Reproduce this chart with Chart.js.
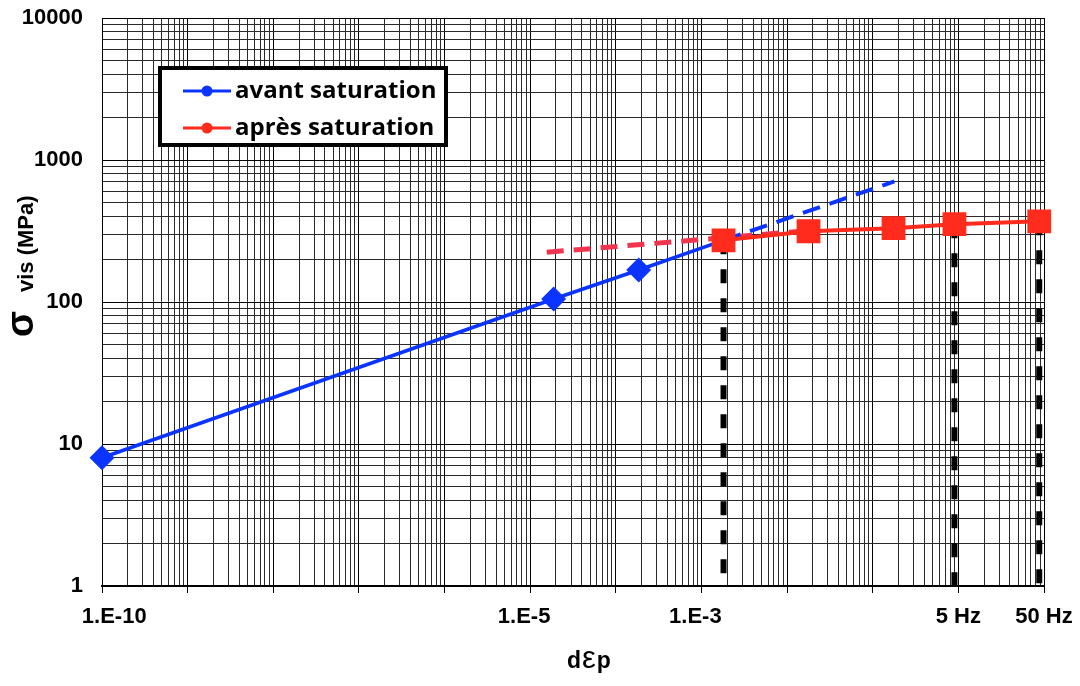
<!DOCTYPE html>
<html>
<head>
<meta charset="utf-8">
<script src="https://cdn.jsdelivr.net/npm/chart.js@4/dist/chart.umd.min.js"></script>
<style>
  html, body { margin: 0; padding: 0; background: #fff; }
  #wrap { width: 1080px; height: 686px; }
</style>
</head>
<body>
<div id="wrap"><canvas id="chart"></canvas></div>
<script>
"use strict";

// avant saturation (blue diamonds)
var avantX = [1e-10, 1.88e-5, 1.85e-4, 1.81e-3];
var avantY = [8, 105, 168, 272];
// blue dashed extension
var avantExtX = [1.81e-3, 0.179];
var avantExtY = [272, 707];

// apres saturation (red squares)
var apresX = [1.81e-3, 1.78e-2, 0.175, 0.9, 8.8];
var apresY = [272, 315, 331, 353, 370];
// red dashed extension
var apresExtX = [1.56e-5, 1.78e-2];
var apresExtY = [224, 318];

// black dashed verticals (frequencies)
var markerX = [1.81e-3, 0.9, 8.8];
var markerTop = [272, 353, 370];

// tick labels (spaces nudge them like the original)
var xLabelValues = [1e-10, 1e-5, 1e-3, 1, 10];
var xLabels = ['    1.E-10', '1.E-5  ', '1.E-3  ', '5 Hz', '50 Hz'];
var yLabelValues = [1, 10, 100, 1000, 10000];
var yLabels = ['1', '10', '100', '1000', '10000'];

var legendNames = ['avant saturation', 'après saturation'];
var BLUE = '#0b34ff';
var RED = '#ff2b1c';
var PINK = '#f2344f';

function pts(xs, ys) {
    return xs.map(function(x, i) { return { x: x, y: ys[i] }; });
}

// every 1..9 x 10^e value, for the log grid
function logGrid(minExp, maxExp) {
    var v = [];
    for (var e = minExp; e < maxExp; e++) {
        for (var m = 1; m < 10; m++) v.push(m * Math.pow(10, e));
    }
    v.push(Math.pow(10, maxExp));
    return v;
}

function isDecade(v) {
    var l = Math.log10(v);
    return Math.abs(l - Math.round(l)) < 1e-9;
}

function labelFor(values, labels, v) {
    for (var i = 0; i < values.length; i++) {
        if (Math.abs(Math.log10(values[i]) - Math.log10(v)) < 1e-9) return labels[i];
    }
    return '';
}

var tickFont = { family: '"Liberation Sans", Arial, sans-serif', weight: 'bold', size: 22 };

var datasets = [
    {
        data: pts(apresX, apresY), borderColor: RED, backgroundColor: RED,
        borderWidth: 4, pointStyle: 'rect', pointRadius: 14, order: 0
    },
    {
        data: pts(avantX, avantY), borderColor: BLUE, backgroundColor: BLUE,
        borderWidth: 3.5, pointStyle: 'rectRot', pointRadius: [10, 10, 10, 0], order: 1
    },
    {
        data: pts(avantExtX, avantExtY), borderColor: BLUE, borderWidth: 4,
        borderDash: [18, 10], pointRadius: 0, order: 2
    },
    {
        data: pts(apresExtX, apresExtY), borderColor: PINK, borderWidth: 5,
        borderDash: [17, 10], pointRadius: 0, order: 2
    }
];

markerX.forEach(function(x, i) {
    datasets.push({
        data: [{ x: x, y: markerTop[i] }, { x: x, y: 1 }],
        borderColor: '#000', borderWidth: 6, borderDash: [14, 15],
        borderCapStyle: 'butt', pointRadius: 0, order: 3
    });
});

// legend box and axis titles (with sigma / epsilon glyphs)
var decor = {
    id: 'decor',
    afterDraw: function(chart) {
        var ctx = chart.ctx;
        ctx.save();

        // legend
        ctx.fillStyle = '#fff';
        ctx.fillRect(160, 68, 286, 77);
        ctx.lineWidth = 4;
        ctx.strokeStyle = '#000';
        ctx.strokeRect(160, 68, 286, 77);
        [BLUE, RED].forEach(function(c, i) {
            var y = 91 + i * 37;
            ctx.strokeStyle = c;
            ctx.lineWidth = 3;
            ctx.beginPath();
            ctx.moveTo(183, y);
            ctx.lineTo(231, y);
            ctx.stroke();
            ctx.fillStyle = c;
            ctx.beginPath();
            ctx.arc(207, y, 5.5, 0, Math.PI * 2);
            ctx.fill();
            ctx.fillStyle = '#000';
            ctx.font = 'bold 24px "Open Sans", sans-serif';
            ctx.textAlign = 'left';
            ctx.textBaseline = 'middle';
            ctx.fillText(legendNames[i], 235, y);
        });

        // y title
        ctx.translate(33, 337);
        ctx.rotate(-Math.PI / 2);
        ctx.textBaseline = 'alphabetic';
        ctx.textAlign = 'left';
        ctx.fillStyle = '#000';
        ctx.font = 'bold 38px "Liberation Sans", sans-serif';
        ctx.fillText('σ', 0, 0);
        ctx.font = 'bold 22px "Liberation Sans", sans-serif';
        ctx.fillText('vis (MPa)', 45, 0);
        ctx.setTransform(1, 0, 0, 1, 0, 0);

        // x title
        var x = 567;
        ctx.font = 'bold 23px "Liberation Sans", sans-serif';
        ctx.fillText('d', x, 668);
        x += ctx.measureText('d').width + 1;
        ctx.font = '31px "Liberation Sans", sans-serif';
        ctx.fillText('ε', x, 668);
        x += ctx.measureText('ε').width + 1;
        ctx.font = 'bold 23px "Liberation Sans", sans-serif';
        ctx.fillText('p', x, 668);

        ctx.restore();
    }
};

new Chart(document.getElementById('chart'), {
    type: 'scatter',
    data: { datasets: datasets },
    plugins: [decor],
    options: {
        responsive: true,
        maintainAspectRatio: false,
        animation: false,
        events: [],
        showLine: true,
        clip: false,
        layout: { padding: { top: 16, right: 36, left: 0, bottom: 0 } },
        plugins: { legend: { display: false }, tooltip: { enabled: false } },
        scales: {
            x: {
                type: 'logarithmic',
                min: 1e-10,
                max: 10,
                afterBuildTicks: function(scale) {
                    scale.ticks = logGrid(-10, 1).map(function(v) { return { value: v }; });
                },
                afterFit: function(scale) {
                    scale.height = 100;
                    scale.paddingLeft = 0;
                    scale.paddingRight = 0;
                },
                border: { color: '#000', width: 2 },
                grid: {
                    color: function(c) { return isDecade(c.tick.value) ? '#000' : '#2a2a2a'; },
                    lineWidth: 1,
                    tickLength: 7,
                    tickColor: function(c) { return isDecade(c.tick.value) ? '#000' : 'rgba(0,0,0,0)'; }
                },
                ticks: {
                    autoSkip: false,
                    maxRotation: 0,
                    padding: 11,
                    color: '#000',
                    font: tickFont,
                    callback: function(v) { return labelFor(xLabelValues, xLabels, v); }
                }
            },
            y: {
                type: 'logarithmic',
                min: 1,
                max: 10000,
                afterBuildTicks: function(scale) {
                    scale.ticks = logGrid(0, 4).map(function(v) { return { value: v }; });
                },
                afterFit: function(scale) {
                    scale.width = 102;
                    scale.paddingTop = 0;
                    scale.paddingBottom = 0;
                },
                border: { color: '#000', width: 1 },
                grid: {
                    color: function(c) { return isDecade(c.tick.value) ? '#000' : '#2a2a2a'; },
                    lineWidth: 1,
                    drawTicks: false
                },
                ticks: {
                    autoSkip: false,
                    padding: 19,
                    color: '#000',
                    font: tickFont,
                    callback: function(v) { return labelFor(yLabelValues, yLabels, v); }
                }
            }
        }
    }
});
</script>
</body>
</html>
